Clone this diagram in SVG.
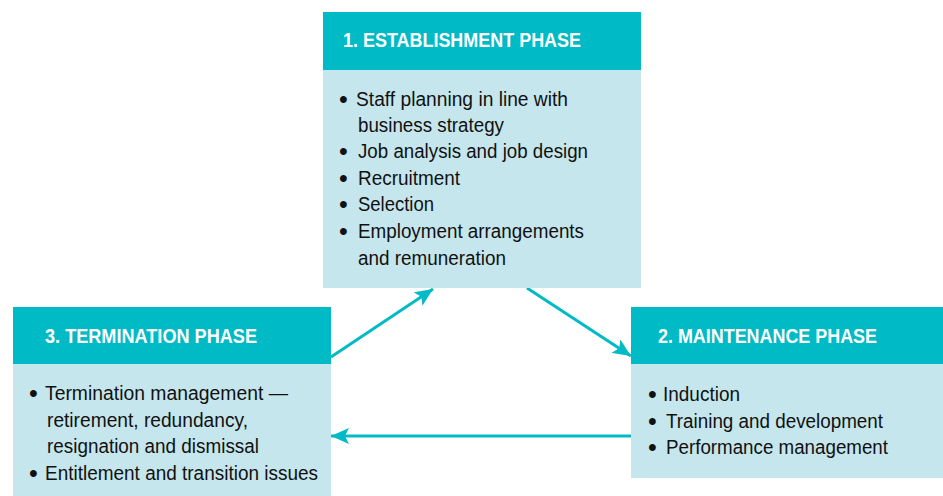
<svg xmlns="http://www.w3.org/2000/svg" width="943" height="496" viewBox="0 0 943 496">
<style>
.hd{fill:#00BAC6}
.bd{fill:#C5E6EC}
.ht{font-family:"Liberation Sans Narrow","Liberation Sans",Arial,sans-serif;font-weight:bold;font-size:21px;fill:#FFFFFF}
.tx{font-family:"Liberation Sans Narrow","Liberation Sans",Arial,sans-serif;font-size:20px;fill:#111111}
.bu{font-family:"Liberation Sans",Arial,sans-serif;font-size:25px;fill:#111111}
.ar{fill:none;stroke:#00BAC6;stroke-width:3}
</style>
<defs>
<marker id="ah" markerUnits="userSpaceOnUse" markerWidth="20" markerHeight="16" refX="18" refY="8" orient="auto">
<path d="M0,0 L18,8 L0,16 L4,8 Z" fill="#00BAC6"/>
</marker>
</defs>
<rect width="943" height="496" fill="#FFFFFF"/>
<g id="connectors">
<path class="ar" d="M331,357 L433,289" marker-end="url(#ah)"/>
<path class="ar" d="M527,288 L631,356" marker-end="url(#ah)"/>
<path class="ar" d="M631,436 L331,436" marker-end="url(#ah)"/>
</g>
<g id="establishment">
<rect class="bd" x="323" y="70" width="318" height="218"/>
<rect class="hd" x="323" y="12" width="318" height="58"/>
<text class="ht" x="343" y="47" textLength="238" lengthAdjust="spacingAndGlyphs">1. ESTABLISHMENT PHASE</text>
<text class="bu" x="339" y="108">•</text>
<text class="tx" x="356" y="106" textLength="212" lengthAdjust="spacingAndGlyphs">Staff planning in line with</text>
<text class="tx" x="358" y="132" textLength="146" lengthAdjust="spacingAndGlyphs">business strategy</text>
<text class="bu" x="339" y="160">•</text>
<text class="tx" x="358" y="158" textLength="230" lengthAdjust="spacingAndGlyphs">Job analysis and job design</text>
<text class="bu" x="339" y="187">•</text>
<text class="tx" x="358" y="185" textLength="102" lengthAdjust="spacingAndGlyphs">Recruitment</text>
<text class="bu" x="339" y="213">•</text>
<text class="tx" x="358" y="211" textLength="76" lengthAdjust="spacingAndGlyphs">Selection</text>
<text class="bu" x="339" y="240">•</text>
<text class="tx" x="358" y="238" textLength="226" lengthAdjust="spacingAndGlyphs">Employment arrangements</text>
<text class="tx" x="358" y="265" textLength="148" lengthAdjust="spacingAndGlyphs">and remuneration</text>
</g>
<g id="maintenance">
<rect class="bd" x="631" y="364" width="312" height="114"/>
<rect class="hd" x="631" y="307" width="312" height="57"/>
<text class="ht" x="658" y="343" textLength="219" lengthAdjust="spacingAndGlyphs">2. MAINTENANCE PHASE</text>
<text class="bu" x="648" y="403">•</text>
<text class="tx" x="663" y="401" textLength="77" lengthAdjust="spacingAndGlyphs">Induction</text>
<text class="bu" x="648" y="430">•</text>
<text class="tx" x="666" y="428" textLength="217" lengthAdjust="spacingAndGlyphs">Training and development</text>
<text class="bu" x="648" y="456">•</text>
<text class="tx" x="666" y="454" textLength="222" lengthAdjust="spacingAndGlyphs">Performance management</text>
</g>
<g id="termination">
<rect class="bd" x="13" y="364" width="318" height="132"/>
<rect class="hd" x="13" y="307" width="318" height="57"/>
<text class="ht" x="45" y="343" textLength="212" lengthAdjust="spacingAndGlyphs">3. TERMINATION PHASE</text>
<text class="bu" x="29" y="402">•</text>
<text class="tx" x="45" y="400" textLength="243" lengthAdjust="spacingAndGlyphs">Termination management —</text>
<text class="tx" x="47" y="427" textLength="201" lengthAdjust="spacingAndGlyphs">retirement, redundancy,</text>
<text class="tx" x="47" y="453" textLength="212" lengthAdjust="spacingAndGlyphs">resignation and dismissal</text>
<text class="bu" x="29" y="482">•</text>
<text class="tx" x="45" y="480" textLength="273" lengthAdjust="spacingAndGlyphs">Entitlement and transition issues</text>
</g>
</svg>
